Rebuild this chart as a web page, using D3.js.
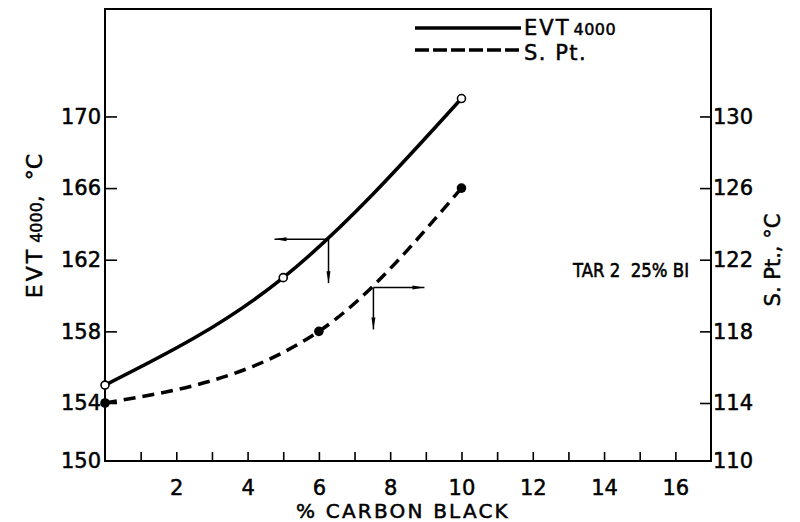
<!DOCTYPE html>
<html>
<head>
<meta charset="utf-8">
<script src="https://cdn.jsdelivr.net/npm/d3@7"></script>
<style>
  html, body { margin: 0; padding: 0; background: #fff; }
  svg text { font-family: "DejaVu Sans", "Liberation Sans", Arial, sans-serif; fill: #000; }
</style>
</head>
<body>
<svg id="chart" width="800" height="522"></svg>
<script>
// ---- data ----
const carbonBlack = [0, 5, 10];          // % carbon black, EVT series
const evt4000 = [155, 161, 171];         // EVT4000, °C (left axis)
const carbonBlackSP = [0, 6, 10];        // % carbon black, S. Pt. series
const softPoint = [114, 118, 126];       // S. Pt., °C (right axis)

const xTicks = [1, 2, 3, 4, 5, 6, 7, 8, 9, 10, 11, 12, 13, 14, 15, 16];
const xTickLabels = [2, 4, 6, 8, 10, 12, 14, 16];
const leftTicks = [150, 154, 158, 162, 166, 170];
const rightTicks = [110, 114, 118, 122, 126, 130];

// arrows pointing from curves to their axes
const arrowEVT = { x: 6.27, y: 163.15 };   // left axis
const arrowSP = { x: 7.53, y: 120.45 };    // right axis

const annotation = "TAR 2  25% BI";

// ---- layout ----
const svg = d3.select("#chart");
const L = 105, R = 711, T = 9, B = 461;
const FONT = "DejaVu Sans, Liberation Sans, Arial, sans-serif";

const x = d3.scaleLinear().domain([0, 17]).range([L, R]);
const yL = d3.scaleLinear().domain([150, 154, 176]).range([B, 403, T]);
const yR = d3.scaleLinear().domain([110, 114, 136]).range([B, 403, T]);

// frame
svg.append("rect").attr("x", L).attr("y", T).attr("width", R - L).attr("height", B - T)
  .attr("fill", "none").attr("stroke", "#000").attr("stroke-width", 2);

// bottom axis
const gx = svg.append("g").attr("transform", `translate(0,${B})`)
  .call(d3.axisBottom(x).tickValues(xTicks).tickSize(-9).tickPadding(19)
    .tickFormat(d => xTickLabels.includes(d) ? d : ""));
// left axis
const gl = svg.append("g").attr("transform", `translate(${L},0)`)
  .call(d3.axisLeft(yL).tickValues(leftTicks).tickSize(-12).tickPadding(4));
// right axis
const gr = svg.append("g").attr("transform", `translate(${R},0)`)
  .call(d3.axisRight(yR).tickValues(rightTicks).tickSize(-11).tickPadding(2));

[gx, gl, gr].forEach(g => {
  g.select(".domain").remove();
  g.selectAll(".tick line").attr("stroke", "#000").attr("stroke-width", 1.6);
  g.selectAll(".tick text").attr("font-size", 21).attr("font-family", FONT)
    .attr("fill", "#000").attr("stroke", "#000").attr("stroke-width", 0.5);
});
gl.selectAll(".tick").filter(d => d === 150).select("line").remove();
gr.selectAll(".tick").filter(d => d === 110).select("line").remove();

// axis titles
svg.append("text").attr("x", 403).attr("y", 518).attr("text-anchor", "middle")
  .attr("font-size", 20).attr("letter-spacing", 2.2)
  .attr("stroke", "#000").attr("stroke-width", 0.5)
  .text("% CARBON BLACK");

const tl = svg.append("text").attr("transform", "translate(42,226) rotate(-90)")
  .attr("text-anchor", "middle").attr("font-size", 22)
  .attr("stroke", "#000").attr("stroke-width", 0.5);
tl.append("tspan").attr("letter-spacing", 3).text("EVT");
tl.append("tspan").attr("font-size", 16).attr("dx", 4).text("4000");
tl.append("tspan").text(",");
tl.append("tspan").attr("dx", 15).text("°C");

svg.append("text").attr("transform", "translate(780,260) rotate(-90)")
  .attr("text-anchor", "middle").attr("font-size", 21)
  .attr("stroke", "#000").attr("stroke-width", 0.5)
  .text("S. Pt.,  °C");

// curves
const evtData = carbonBlack.map((c, i) => [c, evt4000[i]]);
const spData = carbonBlackSP.map((c, i) => [c, softPoint[i]]);

svg.append("path").datum(evtData)
  .attr("d", d3.line().x(d => x(d[0])).y(d => yL(d[1])).curve(d3.curveMonotoneX))
  .attr("fill", "none").attr("stroke", "#000").attr("stroke-width", 3.5);
svg.append("path").datum(spData)
  .attr("d", d3.line().x(d => x(d[0])).y(d => yR(d[1])).curve(d3.curveMonotoneX))
  .attr("fill", "none").attr("stroke", "#000").attr("stroke-width", 3.5)
  .attr("stroke-dasharray", "12,7");

// markers
svg.selectAll(".open").data(evtData).join("circle")
  .attr("cx", d => x(d[0])).attr("cy", d => yL(d[1])).attr("r", 4)
  .attr("fill", "#fff").attr("stroke", "#000").attr("stroke-width", 1.6);
svg.selectAll(".filled").data(spData).join("circle")
  .attr("cx", d => x(d[0])).attr("cy", d => yR(d[1])).attr("r", 4.8)
  .attr("fill", "#000");

// arrows
const defs = svg.append("defs");
defs.append("marker").attr("id", "ah").attr("viewBox", "0 0 12 6")
  .attr("refX", 12).attr("refY", 3).attr("markerWidth", 12).attr("markerHeight", 6)
  .attr("markerUnits", "userSpaceOnUse").attr("orient", "auto")
  .append("path").attr("d", "M0,1 L12,3 L0,5 Z").attr("fill", "#000");

function arrow(x0, y0, x1, y1) {
  svg.append("line").attr("x1", x0).attr("y1", y0).attr("x2", x1).attr("y2", y1)
    .attr("stroke", "#000").attr("stroke-width", 1.5).attr("marker-end", "url(#ah)");
}
const ax1 = x(arrowEVT.x), ay1 = yL(arrowEVT.y);
arrow(ax1, ay1, ax1 - 54, ay1);
arrow(ax1, ay1, ax1, ay1 + 44);
const ax2 = x(arrowSP.x), ay2 = yR(arrowSP.y);
arrow(ax2, ay2, ax2 + 51, ay2);
arrow(ax2, ay2, ax2, ay2 + 42);

// legend
const legend = svg.append("g");
legend.append("line").attr("x1", 415).attr("x2", 521).attr("y1", 28).attr("y2", 28)
  .attr("stroke", "#000").attr("stroke-width", 3.5);
legend.append("line").attr("x1", 415).attr("x2", 521).attr("y1", 50).attr("y2", 50)
  .attr("stroke", "#000").attr("stroke-width", 3.5).attr("stroke-dasharray", "14,4");
const lt = legend.append("text").attr("x", 524).attr("y", 35).attr("font-size", 21)
  .attr("stroke", "#000").attr("stroke-width", 0.5);
lt.append("tspan").attr("letter-spacing", 2).text("EVT");
lt.append("tspan").attr("font-size", 16).attr("dx", 3).attr("letter-spacing", 0.5).text("4000");
legend.append("text").attr("x", 524).attr("y", 60).attr("font-size", 21)
  .attr("letter-spacing", 1.5)
  .attr("stroke", "#000").attr("stroke-width", 0.5).text("S. Pt.");

// annotation
svg.append("text").attr("x", 573).attr("y", 277).attr("font-size", 20)
  .attr("font-family", "Liberation Sans, Arial, sans-serif")
  .attr("stroke", "#000").attr("stroke-width", 0.6)
  .attr("textLength", 116).attr("lengthAdjust", "spacingAndGlyphs")
  .style("white-space", "pre").text(annotation);
</script>
</body>
</html>
